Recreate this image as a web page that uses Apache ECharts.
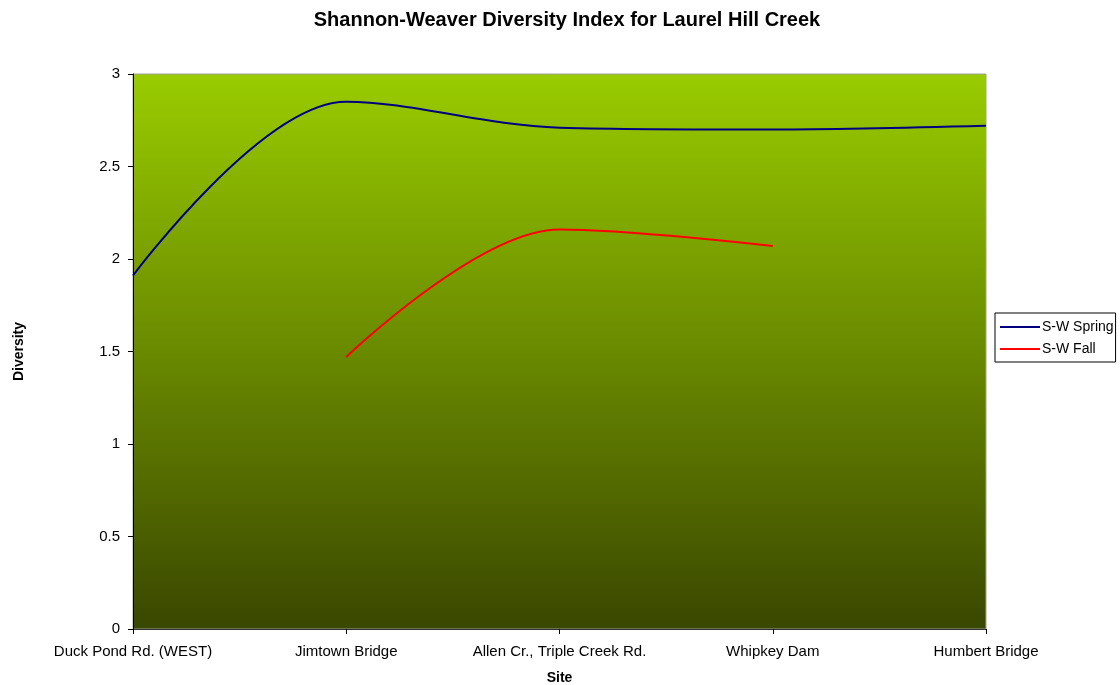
<!DOCTYPE html>
<html>
<head>
<meta charset="utf-8">
<script src="https://cdn.jsdelivr.net/npm/echarts@6/dist/echarts.min.js"></script>
<style>
  html, body { margin: 0; padding: 0; background: #fff; }
  #chart { width: 1120px; height: 685px; }
</style>
</head>
<body>
<div id="chart"></div>
<script>
// sites along the creek
var sites = ['Duck Pond Rd. (WEST)', 'Jimtown Bridge', 'Allen Cr., Triple Creek Rd.', 'Whipkey Dam', 'Humbert Bridge'];
var springValues = [1.91, 2.85, 2.71, 2.70, 2.72];
var fallValues = [null, 1.47, 2.16, 2.07, null];

var myChart = echarts.init(document.getElementById('chart'));

myChart.setOption({
    title: {
        text: 'Shannon-Weaver Diversity Index for Laurel Hill Creek',
        left: 562,
        top: 5,
        textAlign: 'center',
        textStyle: { fontFamily: 'Liberation Sans', fontSize: 20, fontWeight: 'bold', color: '#000' }
    },
    legend: {
        orient: 'vertical',
        left: 995,
        top: 313,
        padding: [7, 2, 6, 5],
        itemGap: 8,
        itemWidth: 40,
        itemHeight: 2,
        icon: 'rect',
        borderColor: '#000',
        borderWidth: 1,
        backgroundColor: '#fff',
        borderRadius: 0,
        textStyle: { fontFamily: 'Liberation Sans', fontSize: 14, color: '#000', padding: [0, 0, 0, -3] },
        data: ['S-W Spring', 'S-W Fall']
    },
    grid: {
        left: 133,
        right: 134,
        top: 74,
        bottom: 56,
        outerBoundsMode: 'none',
        containLabel: false,
        show: true,
        borderColor: '#a0a0a0',
        borderWidth: 1,
        backgroundColor: new echarts.graphic.LinearGradient(0, 0, 0, 1, [
            { offset: 0, color: '#99cc00' },
            { offset: 1, color: '#3a4700' }
        ])
    },
    xAxis: {
        type: 'category',
        data: sites,
        boundaryGap: false,
        name: 'Site',
        nameLocation: 'middle',
        nameGap: 42,
        nameTextStyle: { fontFamily: 'Liberation Sans', fontSize: 14, fontWeight: 'bold', color: '#000' },
        axisLine: { lineStyle: { color: '#333', width: 1 } },
        axisTick: { show: true, length: 5, interval: 0, lineStyle: { color: '#000' } },
        axisLabel: { interval: 0, hideOverlap: false, fontFamily: 'Liberation Sans', fontSize: 15, color: '#000', margin: 15 },
        splitLine: { show: false }
    },
    yAxis: {
        type: 'value',
        min: 0,
        max: 3,
        interval: 0.5,
        name: 'Diversity',
        nameLocation: 'middle',
        nameGap: 107,
        nameRotate: 90,
        nameTextStyle: { fontFamily: 'Liberation Sans', fontSize: 14, fontWeight: 'bold', color: '#000' },
        axisLine: { show: true, lineStyle: { color: '#000', width: 1 } },
        axisTick: { show: true, length: 5, lineStyle: { color: '#000' } },
        axisLabel: { fontFamily: 'Liberation Sans', fontSize: 15, color: '#000', margin: 13 },
        splitLine: { show: false }
    },
    series: [
        {
            name: 'S-W Spring',
            type: 'line',
            data: springValues,
            smooth: 0.35,
            symbol: 'none',
            lineStyle: { color: '#000080', width: 2 },
            itemStyle: { color: '#000080' }
        },
        {
            name: 'S-W Fall',
            type: 'line',
            data: fallValues,
            smooth: 0.35,
            symbol: 'none',
            lineStyle: { color: '#ff0000', width: 2 },
            itemStyle: { color: '#ff0000' }
        }
    ]
});
</script>
</body>
</html>
